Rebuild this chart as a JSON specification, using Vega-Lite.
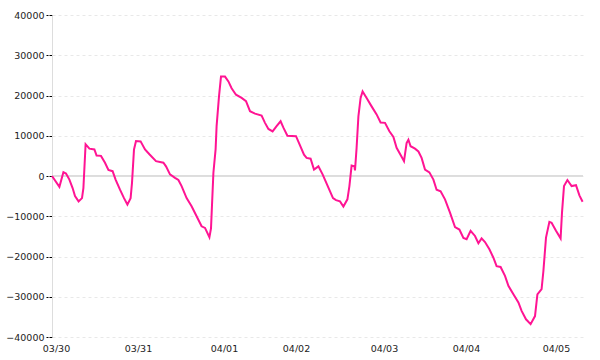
{
  "$schema": "https://vega.github.io/schema/vega-lite/v6.json",
  "width": 531,
  "height": 322,
  "autosize": {"type": "none"},
  "padding": {"left": 52, "top": 15, "right": 17, "bottom": 23},
  "background": "white",
  "config": {
    "view": {"stroke": null},
    "axis": {"labelFont": "DejaVu Sans", "labelFontSize": 9.5, "labelColor": "#222222"}
  },
  "data": {"values": [
    {"t": 0, "v": 0}, {"t": 3.7, "v": -2700}, {"t": 5.7, "v": 950}, {"t": 7, "v": 600}, {"t": 8.7, "v": -900},
    {"t": 10.3, "v": -3000}, {"t": 11.5, "v": -5000}, {"t": 13.3, "v": -6300}, {"t": 15, "v": -5500}, {"t": 15.7, "v": -3000},
    {"t": 16.8, "v": 7900}, {"t": 18.7, "v": 6800}, {"t": 21.2, "v": 6600}, {"t": 22.3, "v": 5100}, {"t": 24.5, "v": 5000},
    {"t": 26.5, "v": 3300}, {"t": 28.2, "v": 1500}, {"t": 30.3, "v": 1200}, {"t": 31.8, "v": -900}, {"t": 34, "v": -3400},
    {"t": 36, "v": -5500}, {"t": 37.7, "v": -7100}, {"t": 39.3, "v": -5500}, {"t": 40, "v": -1700}, {"t": 41, "v": 6600},
    {"t": 42, "v": 8700}, {"t": 44.3, "v": 8600}, {"t": 46.5, "v": 6600}, {"t": 48.7, "v": 5400}, {"t": 52, "v": 3700},
    {"t": 55.7, "v": 3300}, {"t": 57, "v": 2400}, {"t": 59, "v": 400}, {"t": 61.5, "v": -450}, {"t": 63.2, "v": -1000},
    {"t": 64.8, "v": -2500}, {"t": 67.3, "v": -5500}, {"t": 69.8, "v": -7500}, {"t": 72.3, "v": -10000}, {"t": 74.8, "v": -12500},
    {"t": 76.5, "v": -12900}, {"t": 78.7, "v": -15200}, {"t": 79.5, "v": -13000}, {"t": 80.7, "v": 800}, {"t": 81.8, "v": 6600},
    {"t": 82.3, "v": 12400}, {"t": 83.5, "v": 19800}, {"t": 84.5, "v": 24700}, {"t": 86.5, "v": 24700}, {"t": 88.2, "v": 23500},
    {"t": 89.8, "v": 21800}, {"t": 92, "v": 20200}, {"t": 94.8, "v": 19400}, {"t": 97, "v": 18600}, {"t": 99, "v": 16100},
    {"t": 101.5, "v": 15500}, {"t": 104.8, "v": 15000}, {"t": 106.5, "v": 13200}, {"t": 108.2, "v": 11700}, {"t": 110.3, "v": 11100},
    {"t": 112.3, "v": 12400}, {"t": 114.3, "v": 13600}, {"t": 115.7, "v": 12000}, {"t": 117.7, "v": 10000}, {"t": 122, "v": 9900},
    {"t": 124, "v": 7600}, {"t": 126, "v": 5300}, {"t": 127.3, "v": 4500}, {"t": 129.3, "v": 4300}, {"t": 131, "v": 1600},
    {"t": 133.2, "v": 2400}, {"t": 135.3, "v": 400}, {"t": 138.2, "v": -2900}, {"t": 140.5, "v": -5500}, {"t": 142, "v": -6000},
    {"t": 144, "v": -6300}, {"t": 145.7, "v": -7600}, {"t": 147.7, "v": -5800}, {"t": 148.7, "v": -2500}, {"t": 149.8, "v": 2600},
    {"t": 151.2, "v": 2400}, {"t": 151.5, "v": 1400}, {"t": 152.3, "v": 7000}, {"t": 153.2, "v": 14800}, {"t": 154.3, "v": 19400},
    {"t": 155.3, "v": 21000}, {"t": 157.3, "v": 19400}, {"t": 159.8, "v": 17300}, {"t": 162.3, "v": 15300}, {"t": 164.3, "v": 13300},
    {"t": 166.5, "v": 13200}, {"t": 168.7, "v": 11100}, {"t": 170.7, "v": 9700}, {"t": 172.3, "v": 7000}, {"t": 174.8, "v": 4800},
    {"t": 176, "v": 3700}, {"t": 177.3, "v": 8200}, {"t": 178.2, "v": 9000}, {"t": 179.3, "v": 7400}, {"t": 181.5, "v": 6800},
    {"t": 183.2, "v": 6100}, {"t": 184.8, "v": 4500}, {"t": 186.5, "v": 1600}, {"t": 188.7, "v": 900}, {"t": 190.7, "v": -900},
    {"t": 192.3, "v": -3400}, {"t": 194.3, "v": -3800}, {"t": 196.5, "v": -5800}, {"t": 199, "v": -9100}, {"t": 201.5, "v": -12700},
    {"t": 203.7, "v": -13300}, {"t": 205.7, "v": -15400}, {"t": 207.3, "v": -15700}, {"t": 209.3, "v": -13600}, {"t": 211.5, "v": -14900},
    {"t": 213.2, "v": -16700}, {"t": 214.8, "v": -15500}, {"t": 216.5, "v": -16400}, {"t": 218.7, "v": -18200}, {"t": 220.7, "v": -20300},
    {"t": 222.3, "v": -22400}, {"t": 224.3, "v": -22600}, {"t": 226.5, "v": -24800}, {"t": 228.2, "v": -27300}, {"t": 230.7, "v": -29400},
    {"t": 233.2, "v": -31400}, {"t": 234.8, "v": -33500}, {"t": 237, "v": -35600}, {"t": 239.3, "v": -36800}, {"t": 241.5, "v": -34800},
    {"t": 242.7, "v": -29400}, {"t": 244.8, "v": -28100}, {"t": 245.7, "v": -23600}, {"t": 247, "v": -15300}, {"t": 248.7, "v": -11400},
    {"t": 249.8, "v": -11600}, {"t": 252, "v": -13600}, {"t": 254.3, "v": -15500}, {"t": 255, "v": -9100}, {"t": 256, "v": -2500},
    {"t": 257.7, "v": -1000}, {"t": 259.8, "v": -2500}, {"t": 262, "v": -2300}, {"t": 263.7, "v": -4800}, {"t": 265.3, "v": -6400}
  ]},
  "layer": [
    {
      "mark": {"type": "rule", "color": "#dddddd", "strokeWidth": 1},
      "encoding": {"y": {"datum": 0, "type": "quantitative", "scale": {"domain": [-40000, 40000]}}}
    },
    {
      "mark": {"type": "line", "color": "#ff1493", "strokeWidth": 2, "interpolate": "linear"},
      "encoding": {
        "x": {
          "field": "t", "type": "quantitative",
          "scale": {"domain": [0, 265.5], "nice": false, "zero": false},
          "axis": {
            "title": null, "grid": false, "domain": false, "ticks": false, "labelPadding": 6,
            "values": [2, 43, 86, 122, 166, 207, 252],
            "labelExpr": "datum.value == 2 ? '03/30' : datum.value == 43 ? '03/31' : datum.value == 86 ? '04/01' : datum.value == 122 ? '04/02' : datum.value == 166 ? '04/03' : datum.value == 207 ? '04/04' : '04/05'"
          }
        },
        "y": {
          "field": "v", "type": "quantitative",
          "scale": {"domain": [-40000, 40000], "nice": false},
          "axis": {
            "title": null, "format": "d",
            "values": [-40000, -30000, -20000, -10000, 0, 10000, 20000, 30000, 40000],
            "grid": true, "gridColor": "#e8e8e8", "gridDash": [3, 3],
            "domain": true, "domainColor": "#dddddd",
            "ticks": true, "tickColor": "#000000", "tickSize": 6, "tickDash": [3, 1],
            "labelPadding": 2
          }
        }
      }
    }
  ]
}
